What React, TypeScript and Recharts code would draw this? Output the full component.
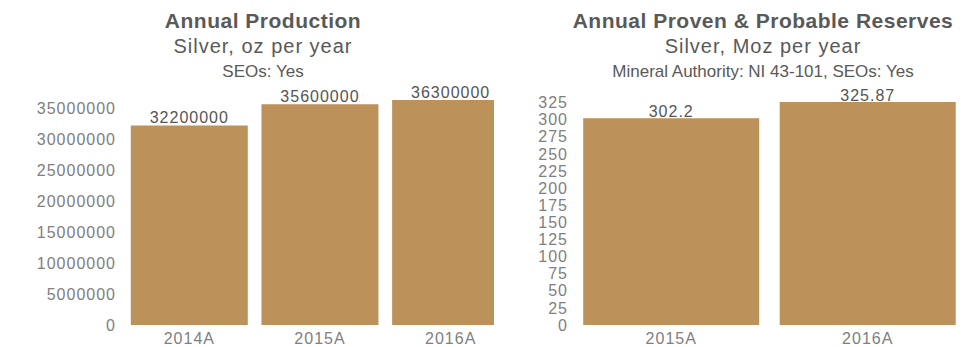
import React from 'react';
import { Bar, BarChart, XAxis, YAxis, LabelList } from 'recharts';

const productionYears = ['2014A', '2015A', '2016A'];
const productionOz = [32200000, 35600000, 36300000];
const productionTicks = [0, 5000000, 10000000, 15000000, 20000000, 25000000, 30000000, 35000000];

const reserveYears = ['2015A', '2016A'];
const reserveMoz = [302.2, 325.87];
const reserveTicks = [0, 25, 50, 75, 100, 125, 150, 175, 200, 225, 250, 275, 300, 325];

const FONT = '"Liberation Sans", Arial, Helvetica, sans-serif';
const BAR = '#bd915a';
const tickStyle = { fontSize: 16, fill: '#808080', fontFamily: FONT, letterSpacing: 1 };

const productionData = productionYears.map((year, i) => ({ year, value: productionOz[i] }));
const reserveData = reserveYears.map((year, i) => ({ year, value: reserveMoz[i] }));

const Titles: React.FC<{ center: number; title: string; sub: string; note: string }> = ({ center, title, sub, note }) => {
  const line = (top: number, size: number, bold: boolean, ls: number, text: string) => (
    <div
      style={{
        position: 'absolute', left: center - 300, width: 600, top, textAlign: 'center',
        fontSize: size, lineHeight: `${size}px`, fontWeight: bold ? 700 : 400,
        letterSpacing: ls, color: '#595959', fontFamily: FONT, whiteSpace: 'nowrap',
      }}
    >
      {text}
    </div>
  );
  return (
    <>
      {line(10, 21, true, 0.5, title)}
      {line(36, 20, false, 1, sub)}
      {line(63, 17, false, 0, note)}
    </>
  );
};

const App: React.FC = () => (
  <div style={{ position: 'absolute', left: 0, top: 0, width: 961, height: 347, background: '#fff', overflow: 'hidden' }}>
    {/* left: annual production, clipped by the right panel */}
    <div style={{ position: 'absolute', left: 0, top: 0, width: 494, height: 347, overflow: 'hidden' }}>
      <BarChart width={520} height={347} data={productionData} margin={{ top: 100, right: 4, bottom: 0, left: 0 }} barCategoryGap="5.2%">
        <XAxis dataKey="year" tick={tickStyle} tickLine={false} axisLine={false} height={22} />
        <YAxis width={124} domain={[0, 'dataMax']} ticks={productionTicks} interval={0} tick={tickStyle} tickLine={false} axisLine={false} tickSize={6} tickMargin={2} />
        <Bar dataKey="value" fill={BAR} isAnimationActive={false}>
          <LabelList dataKey="value" position="top" offset={2} fill="#555" fontSize={16} fontFamily={FONT} style={{ letterSpacing: 1 }} />
        </Bar>
      </BarChart>
    </div>
    <Titles center={263} title="Annual Production" sub="Silver, oz per year" note="SEOs: Yes" />

    {/* right: proven & probable reserves */}
    <div style={{ position: 'absolute', left: 494, top: 0, width: 467, height: 347, overflow: 'hidden', background: '#fff' }}>
      <BarChart width={472} height={347} data={reserveData} margin={{ top: 102, right: 0, bottom: 0, left: 0 }} barCategoryGap="5.2%">
        <XAxis dataKey="year" tick={tickStyle} tickLine={false} axisLine={false} height={22} />
        <YAxis width={79} domain={[0, 'dataMax']} ticks={reserveTicks} interval={0} tick={tickStyle} tickLine={false} axisLine={false} tickSize={3} tickMargin={2} />
        <Bar dataKey="value" fill={BAR} isAnimationActive={false}>
          <LabelList dataKey="value" position="top" offset={1} fill="#555" fontSize={16} fontFamily={FONT} style={{ letterSpacing: 1 }} />
        </Bar>
      </BarChart>
    </div>
    <Titles center={763} title="Annual Proven & Probable Reserves" sub="Silver, Moz per year" note="Mineral Authority: NI 43-101, SEOs: Yes" />
  </div>
);

export default App;
